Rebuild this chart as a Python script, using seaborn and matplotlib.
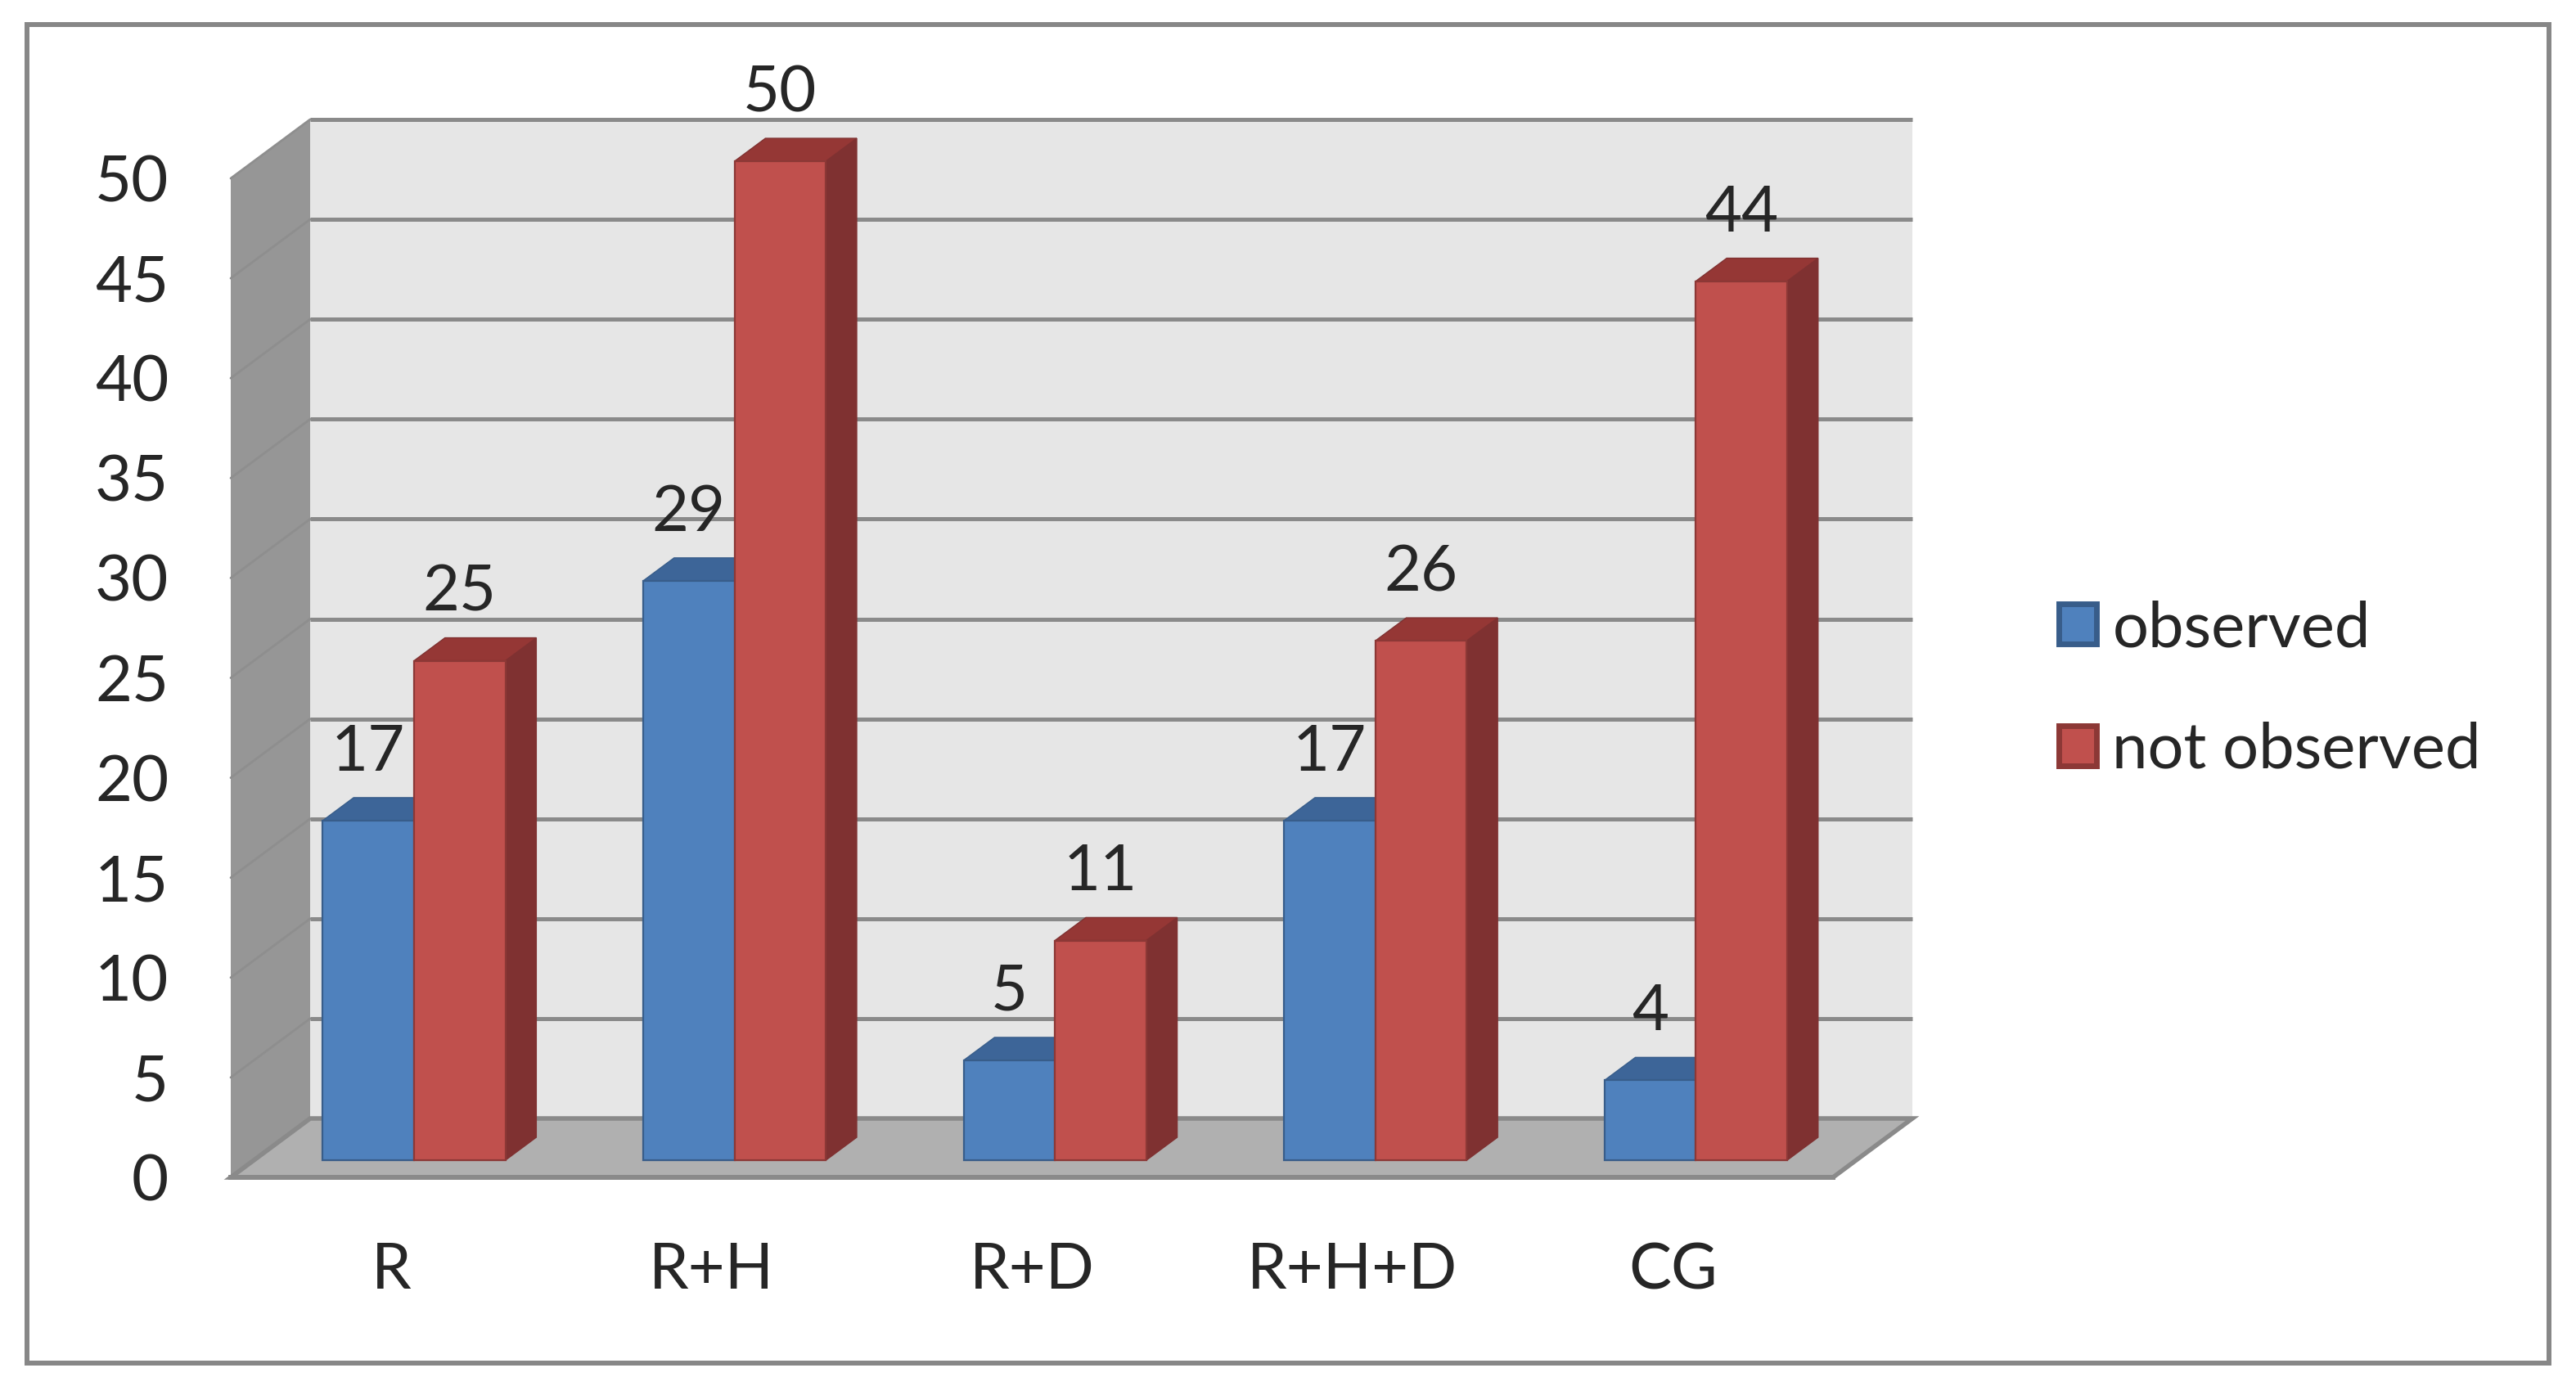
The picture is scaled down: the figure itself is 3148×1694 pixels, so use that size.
import numpy as np
import pandas as pd
import seaborn as sns
import matplotlib.pyplot as plt
from matplotlib.patches import Polygon, Rectangle, Patch

### Data
groups = ["R", "R+H", "R+D", "R+H+D", "CG"]
observed = [17, 29, 5, 17, 4]
not_observed = [25, 50, 11, 26, 44]
series = ["observed", "not observed"]
y_ticks = [0, 5, 10, 15, 20, 25, 30, 35, 40, 45, 50]

df = pd.DataFrame({
    "group": groups * 2,
    "count": observed + not_observed,
    "status": [series[0]] * len(groups) + [series[1]] * len(groups),
})

### Colours (front, top, side, edge)
front = ["#4f81bd", "#c0504d"]
top = ["#3d6598", "#953735"]
side = ["#385d8a", "#7f3131"]
edge = ["#385d8a", "#8c3836"]
grid_c = "#8a8a8a"

sns.set_style("white")
plt.rcParams["font.family"] = ["Lato", "DejaVu Sans"]
FS = 56

W, H = 3148, 1694
fig = plt.figure(figsize=(W / 100, H / 100), dpi=100)
# front plane of the 3D box, in pixels of the reference
x0, x1, y0, y50 = 282, 2240, 1439, 218
ax = fig.add_axes([x0 / W, 1 - y0 / H, (x1 - x0) / W, (y0 - y50) / H])
ax.patch.set_visible(False)

### Depth of the box in data units
DX = 97 / ((x1 - x0) / 5)
DY = 72 / ((y0 - y50) / 50)
f1, f2 = 0.29, 0.68  # bar front / back as fraction of depth

sns.barplot(data=df, x="group", y="count", hue="status", palette=front,
            saturation=1, width=0.57, ax=ax, legend=False, zorder=3)

ax.set_xlim(-0.5, 4.5)
ax.set_ylim(0, 50)

### Walls and floor
xl, xr = -0.5, 4.5
ax.add_patch(Rectangle((xl + DX, DY), xr - xl, 50, facecolor="#e6e6e6",
                       edgecolor="none", zorder=0.1, clip_on=False))
ax.add_patch(Polygon([(xl, 0), (xl, 50), (xl + DX, 50 + DY), (xl + DX, DY)],
                     closed=True, facecolor="#969696", edgecolor="none",
                     zorder=0.15, clip_on=False))
for v in y_ticks[1:]:
    ax.plot([xl + DX, xr + DX], [v + DY, v + DY], color=grid_c, lw=3.6,
            zorder=0.2, clip_on=False, solid_capstyle="butt")
    ax.plot([xl, xl + DX], [v, v + DY], color="#8e8e8e", lw=2,
            zorder=0.2, clip_on=False)
ax.add_patch(Polygon([(xl, 0), (xr, 0), (xr + DX, DY), (xl + DX, DY)],
                     closed=True, facecolor="#b0b0b0", edgecolor=grid_c,
                     lw=4, zorder=0.3, clip_on=False))

### Turn the flat bars into boxes
d = f2 - f1
for i, cont in enumerate(ax.containers):
    for p in cont.patches:
        p.set_x(p.get_x() + f1 * DX)
        p.set_y(p.get_y() + f1 * DY)
        p.set_edgecolor(edge[i])
        p.set_linewidth(1.6)
        p.set_clip_on(False)
        bx, by, bw, bh = p.get_x(), p.get_y(), p.get_width(), p.get_height()
        ax.add_patch(Polygon([(bx + bw, by), (bx + bw, by + bh),
                              (bx + bw + d * DX, by + bh + d * DY),
                              (bx + bw + d * DX, by + d * DY)],
                             closed=True, facecolor=side[i], edgecolor=side[i],
                             lw=1, zorder=2, clip_on=False))
        ax.add_patch(Polygon([(bx, by + bh), (bx + bw, by + bh),
                              (bx + bw + d * DX, by + bh + d * DY),
                              (bx + d * DX, by + bh + d * DY)],
                             closed=True, facecolor=top[i], edgecolor=side[i],
                             lw=1, zorder=2, clip_on=False))
        ax.annotate(f"{int(round(bh))}", (bx + bw / 2, by + bh),
                    xytext=(0, 44), textcoords="offset points",
                    ha="center", va="baseline", fontsize=FS,
                    annotation_clip=False)

### Axes, ticks and labels
for s in ["left", "right", "top"]:
    ax.spines[s].set_visible(False)
ax.spines["bottom"].set_color(grid_c)
ax.spines["bottom"].set_linewidth(4.3)
ax.spines["bottom"].set_zorder(0.35)

ax.set_yticks(y_ticks)
ax.set_yticklabels([str(v) for v in y_ticks], fontsize=FS)
ax.tick_params(axis="y", length=16.6, width=3.6, color=grid_c, pad=38,
               direction="out")
ax.set_xticks(range(len(groups)))
ax.set_xticklabels(groups, fontsize=FS)
ax.set_xticks(np.arange(-0.5, 5, 1), minor=True)
ax.tick_params(axis="x", which="major", length=0, pad=57)
ax.tick_params(axis="x", which="minor", length=19.4, width=3.6, color=grid_c,
               direction="out")
ax.set_xlabel("")
ax.set_ylabel("")

### Legend
handles = [Patch(facecolor=front[i], edgecolor=edge[i], lw=5) for i in range(2)]
fig.legend(handles, series, loc="center left",
           bbox_to_anchor=(2516 / W, 1 - 843 / H), frameon=False,
           fontsize=FS, handlelength=0.59, handleheight=0.59,
           handletextpad=0.25, labelspacing=1.0, borderpad=0,
           borderaxespad=0)

### Outer frame
fig.patches.append(Rectangle((33 / W, 1 - 1666 / H), (3115 - 33) / W,
                             (1666 - 30.5) / H, transform=fig.transFigure,
                             fill=False, edgecolor="#878787", lw=4.3))

fig.savefig("out.png", dpi=100)
